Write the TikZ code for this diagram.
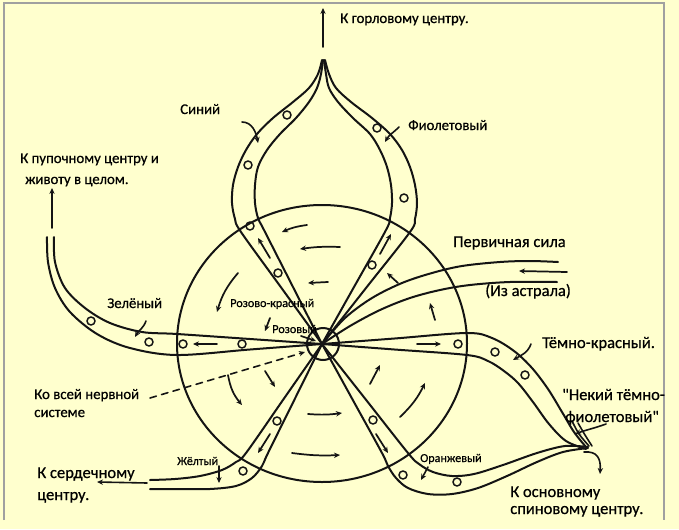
\documentclass[tikz,border=0pt]{standalone}
\usepackage{fontspec}
\setmainfont{Carlito}[Ligatures=TeXOff,FakeBold=0.6,AutoFakeBold=0.6]
\usetikzlibrary{arrows.meta}
\definecolor{bgc}{RGB}{255,255,206}
\definecolor{ink}{RGB}{20,20,20}
\definecolor{framec}{RGB}{160,160,160}
\begin{document}
\begin{tikzpicture}[x=0.75pt,y=-0.75pt,
  ln/.style={draw=ink,line width=1.5pt,line join=round,line cap=round},
  mk/.style={draw=ink,line width=1.1pt},
  fa/.style={draw=ink,line width=1.3pt,line cap=round,-{Stealth[length=4.5pt,width=4pt]}},
  la/.style={draw=ink,line width=1.2pt,line cap=round,-{Stealth[length=4.5pt,width=4pt]}},
  lbA/.style={inner sep=0pt,anchor=base west,font=\fontsize{11.1}{13}\bfseries},
  lbB/.style={inner sep=0pt,anchor=base west,font=\fontsize{12.4}{14}\bfseries},
  lbC/.style={inner sep=0pt,anchor=base west,font=\fontsize{9.1}{10}\bfseries},
]
\fill[bgc] (0,0) rectangle (679,529);
\useasboundingbox (0,0) rectangle (679,529);
\draw[framec,line width=1.2pt] (4,520) -- (4,3) -- (664,3) -- (664,520);

\coordinate (C) at (322,344);

% big wheel and hub
\draw[ln] (322,343.5) ellipse [x radius=145, y radius=138.5];
\draw[ln] (323,344) circle [radius=16];

% Sinij -> Oranzhevyj (outer / upper)
\draw[ln] plot[smooth,tension=0.55] coordinates {(322,60) (318,74) (309,88) (293,102) (273,118) (257,134) (246,150) (238,167) (233,185) (232,203) (235,219) (241,232) (281.5,288) (322,344)};
\draw[ln] plot[smooth,tension=0.55] coordinates {(322,344) (365,398.5) (408,453) (419,464) (433,472) (452,476) (474,474) (503,465) (537,453) (565,446) (588,447)};
% Sinij -> Oranzhevyj (inner / lower)
\draw[ln] plot[smooth,tension=0.55] coordinates {(323,60) (321,74) (317,88) (309,102) (296,118) (280,134) (267,150) (258,167) (255,185) (255,203) (258,218) (264,230) (293,287) (322,344)};
\draw[ln] plot[smooth,tension=0.55] coordinates {(322,344) (352,398.5) (382,453) (388,466) (396,478) (408,488) (428,494) (452,494) (478,488) (507,476) (537,462) (563,452) (588,448)};
% Fioletovyj -> Zheltyj (outer / upper)
\draw[ln] plot[smooth,tension=0.55] coordinates {(325,60) (329,74) (336,88) (351,102) (372,118) (390,134) (402,150) (410,167) (415,185) (417,203) (415,219) (410,232) (366,288) (322,344)};
\draw[ln] plot[smooth,tension=0.55] coordinates {(322,344) (284,398.5) (246,453) (236,462) (222,470) (200,476) (175,479) (150,480)};
% Fioletovyj -> Zheltyj (inner / lower)
\draw[ln] plot[smooth,tension=0.55] coordinates {(324,60) (326,74) (329,88) (338,102) (353,118) (370,134) (380,150) (387,167) (391,185) (392,203) (390,218) (386,230) (354,287) (322,344)};
\draw[ln] plot[smooth,tension=0.55] coordinates {(322,344) (295,398.5) (268,453) (262,466) (252,478) (236,486) (210,489) (180,489) (150,489)};
% Zelenyj -> Temno-krasnyj
\draw[ln] plot[smooth,tension=0.55] coordinates {(47,237) (48,262) (55,288) (70,312) (97,334) (130,348) (177,355) (250,349.5) (322,344)};
\draw[ln] plot[smooth,tension=0.55] coordinates {(322,344) (394.5,338.5) (467,333) (492,338) (514,351) (532,368) (548,389) (562,412) (574,432) (586,447)};
\draw[ln] plot[smooth,tension=0.55] coordinates {(54,237) (55,262) (65,288) (85,308) (110,323) (142,332) (177,334) (250,339) (322,344)};
\draw[ln] plot[smooth,tension=0.55] coordinates {(322,344) (394.5,349.5) (467,355) (488,361) (504,371) (518,383) (533,402) (549,424) (566,441) (586,449)};
% dark violet strands
\draw[ln,line width=1.2pt] plot[smooth] coordinates {(572,421) (579,434) (589,446)};
\draw[ln,line width=1.2pt] plot[smooth] coordinates {(578,423) (585,435) (592,446)};
% primary force
\draw[ln] plot[smooth,tension=0.55] coordinates {(322,344) (345,318) (372,298) (402,283) (432,273) (462,266) (500,262) (530,261) (558,262)};
\draw[ln] plot[smooth,tension=0.55] coordinates {(322,344) (350,326) (380,310) (410,298) (440,290) (470,285) (510,282) (557,282)};
\coordinate (pfA) at (567,272); \coordinate (pfB) at (519,271);
\draw[fa] (pfA) -- (pfB);

% markers
\foreach \p in {(287,115),(248,165),(250,226),(278,273),
                (377,128),(404,198),(372,265),
                (277,421),(243,471),
                (373,420),(403,475),(457,482),
                (91,321),(149,342),(183,344),(242,344),
                (458,344),(495,352),(525,375)}
  \draw[mk] \p circle [radius=4];

% flow arrows in wheel
\draw[fa] (307,225) to[bend right=8] (282,232);
\draw[fa] (340,247) to[bend right=5] (300,249);
\draw[fa] (328,282) -- (308,283);
\draw[fa] (238,273) to[bend right=12] (217,312);
\draw[fa] (270,318) -- (265,331);
\draw[fa] (228,375) to[bend right=15] (242,405);
\draw[fa] (265,371) -- (275,387);
\draw[fa] (308,414) to[bend right=6] (342,413);
\draw[fa] (292,453) to[bend right=5] (340,455);
\draw[fa] (370,384) -- (380,365);
\draw[fa] (400,417) to[bend right=10] (425,383);
\draw[fa] (435,320) -- (430,303);
\draw[fa] (398,283) -- (387,273);
% arrows inside tubes
\draw[fa] (270,258) -- (258,238);
\draw[fa] (380,254) -- (391,234);
\draw[fa] (217,344) -- (193,344);
\draw[fa] (417,344) -- (441,344);
\draw[fa] (270,434) -- (258,453);
\draw[fa] (376,434) -- (388,453);

% labels
\node[lbA] (lThroat) at (340,23) {К горловому центру.};
\node[lbA] (lBlue) at (180,114) {Синий};
\node[lbA] (lViolet) at (408,130) {Фиолетовый};
\node[lbA] (lNavel1) at (20,163) {К пупочному центру и};
\node[lbA] (lNavel2) at (25,184) {животу в целом.};
\node[lbA] (lGreen) at (107,308) {Зелёный};
\node[lbC] (lPinkRed) at (230,307) {Розово-красный};
\node[lbC] (lPink) at (272,333) {Розовый};
\node[lbA] (lNerve1) at (34,399) {Ко всей нервной};
\node[lbA] (lNerve2) at (34,417) {системе};
\node[lbB] (lPrim1) at (453,247) {Первичная сила};
\node[lbB] (lPrim2) at (485,296) {(Из астрала)};
\node[lbB] (lDarkRed) at (542,348) {Тёмно-красный.};
\node[lbB] (lDV1) at (562,400) {"Некий тёмно-};
\node[lbB] (lDV2) at (565,422) {фиолетовый"};
\node[lbC] (lYellow) at (177,465) {Жёлтый};
\node[lbC] (lOrange) at (420,462) {Оранжевый};
\node[lbB] (lHeart1) at (37,478) {К сердечному};
\node[lbB] (lHeart2) at (37,500) {центру.};
\node[lbB] (lBase1) at (510,497) {К основному};
\node[lbB] (lBase2) at (510,514) {спиновому центру.};

% label pointers and exits
\coordinate (tA) at (323,47); \coordinate (tB) at (323,8);
\draw[la] (tA) -- (tB);
\coordinate (nA) at (52,228); \coordinate (nB) at (52,188);
\draw[la] (nA) -- (nB);
\coordinate (hA) at (147,483); \coordinate (hB) at (97,482);
\draw[la] (hA) -- (hB);
\coordinate (bA) at (584,452); \coordinate (bB) at (600,474);
\draw[la] (bA) .. controls (597,451) and (601,458) .. (bB);
\coordinate (dA) at (150,398); \coordinate (dB) at (305,352);
\draw[la,dashed,dash pattern=on 5pt off 4pt] (dA) -- (dB);
\draw[la] (242,122) to[out=0,in=100] (258,143);
\draw[la] (399,127) to[out=225,in=60] (385,142);
\draw[la] (146,321) to[out=250,in=60] (135,337);
\draw[la] (301,336) -- (316,341);
\draw[la] (219,466) -- (219,483);
\draw[la] (428,467) -- (421,480);
\draw[la] (531,344) to[out=250,in=30] (513,360);
\draw[la] (606,424) to[out=200,in=20] (575,434);
\end{tikzpicture}
\end{document}
